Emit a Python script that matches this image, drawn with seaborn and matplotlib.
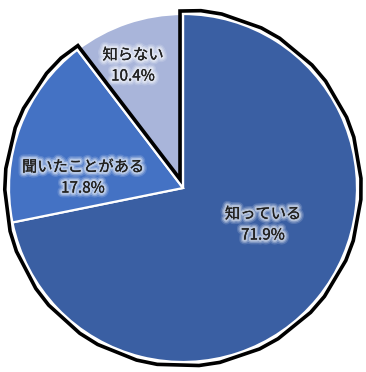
import numpy as np
import matplotlib
matplotlib.use("Agg")
import matplotlib.pyplot as plt
import matplotlib.patheffects as pe
from matplotlib.path import Path
from matplotlib.patches import PathPatch
import seaborn as sns

# Survey answers and their shares (%)
categories = ["知っている", "聞いたことがある", "知らない"]
shares = [71.9, 17.8, 10.4]
colors = ["#3a5fa3", "#4472c4", "#a9b5da"]

sns.set_theme(style="white")
plt.rcParams["font.family"] = ["Noto Sans CJK JP", "DejaVu Sans"]

fig = plt.figure(figsize=(3.66, 3.72), dpi=100)
ax = fig.add_axes([0, 0, 1, 1])

cx, cy, r = 183.0, 184.0, 174.0
wedges, _ = ax.pie(
    shares,
    colors=colors,
    startangle=90,
    counterclock=False,
    center=(cx, cy),
    radius=r,
    wedgeprops=dict(edgecolor="white", linewidth=1.6),
)

# Black outline around the "aware" group (知っている + 聞いたことがある),
# offset outward from the wedge edges by a small gap
gap = 3.0
R = r + gap
total = sum(shares)
a_start = 90.0                                         # top edge of 知っている
a_end = 90.0 + 360.0 * shares[2] / total               # edge between 聞いたことがある and 知らない
half = np.radians((a_end - a_start) / 2.0)
bis = np.radians((a_start + a_end) / 2.0)
vertex = np.array([cx, cy]) + gap / np.sin(half) * np.array([np.cos(bis), np.sin(bis)])
delta = np.degrees(np.arcsin(gap / R))

arc = Path.arc(a_end - delta, a_start + 360.0 + delta)
arc_pts = arc.vertices * R + np.array([cx, cy])
verts = np.vstack([vertex, arc_pts, vertex])
codes = [Path.MOVETO] + [Path.LINETO] * len(arc_pts) + [Path.CLOSEPOLY]
outline = PathPatch(Path(verts, codes), facecolor="none", edgecolor="black",
                    linewidth=2.6, joinstyle="miter", zorder=5)
ax.add_patch(outline)

# Labels with a soft white glow
glow = [
    pe.withStroke(linewidth=7, foreground="white", alpha=0.15),
    pe.withStroke(linewidth=5, foreground="white", alpha=0.25),
    pe.withStroke(linewidth=3, foreground="white", alpha=0.4),
    pe.Normal(),
]
label_pos = [(263, 158), (83, 205), (133, 317)]
for name, val, (x, y) in zip(categories, shares, label_pos):
    ax.text(x, y, name, ha="center", va="center", fontsize=11,
            color="#222222", path_effects=glow, zorder=6)
    ax.text(x, y - 21, f"{val:.1f}%", ha="center", va="center", fontsize=11,
            color="#222222", path_effects=glow, zorder=6)

ax.set_xlim(0, 366)
ax.set_ylim(0, 372)
ax.set_aspect("auto")
ax.axis("off")

fig.savefig("out.png", dpi=100, facecolor="white")
